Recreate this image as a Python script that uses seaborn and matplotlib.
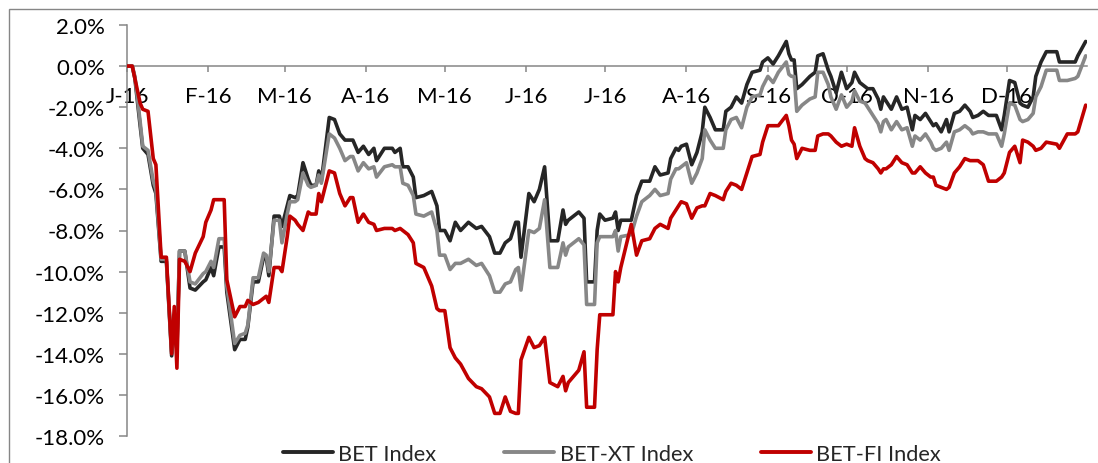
import numpy as np
import pandas as pd
import matplotlib
matplotlib.use("Agg")
import matplotlib.pyplot as plt
from matplotlib.patches import Rectangle
from matplotlib.ticker import FuncFormatter, FixedLocator
import seaborn as sns

# ---------------- data (2016, % change since start of year) ----------------
days = [0, 2, 3, 5, 6, 8, 10, 11, 13, 15,
        17, 18, 19, 20, 22, 24, 26, 29, 30, 32,
        33, 35, 37, 38, 41, 43, 45, 46, 48, 50,
        52, 53, 54, 56, 58, 59, 61, 62, 64, 65,
        67, 69, 70, 72, 73, 74, 77, 79, 81, 83,
        85, 86, 88, 90, 92, 94, 95, 98, 101, 102,
        104, 105, 107, 109, 110, 113, 116, 118, 119, 121,
        123, 125, 127, 130, 133, 135, 138, 140, 142, 144,
        146, 148, 149, 150, 153, 155, 157, 159, 161, 164,
        166, 167, 168, 172, 174, 175, 178, 179, 180, 182,
        185, 186, 187, 188, 192, 194, 196, 199, 201, 203,
        206, 207, 209, 210, 211, 213, 215, 217, 219, 220,
        222, 224, 227, 228, 230, 232, 234, 236, 238, 241,
        242, 244, 246, 248, 251, 252, 253, 254, 255, 257,
        260, 262, 263, 265, 267, 268, 270, 272, 274, 276,
        277, 279, 281, 282, 284, 286, 287, 288, 289, 291,
        293, 295, 297, 299, 300, 302, 304, 306, 307, 308,
        310, 312, 313, 315, 317, 319, 321, 322, 324, 326,
        328, 331, 333, 334, 336, 338, 340, 341, 343, 345,
        346, 348, 350, 354, 355, 358, 361, 362, 365]

bet = [0, 0, -0.6, -2.9, -4.0, -4.3, -5.8, -6.2, -9.5, -9.5,
       -14.1, -12.5, -13.8, -9.0, -9.0, -10.8, -10.9, -10.5, -10.4, -9.8,
       -10.2, -8.8, -8.8, -11.0, -13.8, -13.3, -13.3, -12.7, -10.5, -10.5,
       -9.3, -9.3, -10.2, -7.3, -7.3, -7.8, -6.8, -6.3, -6.4, -6.3,
       -4.7, -5.5, -5.8, -5.8, -5.1, -5.6, -2.5, -2.6, -3.3, -3.6,
       -3.6, -3.6, -4.2, -3.9, -4.3, -4.0, -4.6, -4.0, -4.0, -4.2,
       -4.0, -4.9, -4.9, -5.4, -6.4, -6.3, -6.1, -6.8, -8.0, -8.0,
       -8.5, -7.6, -8.0, -7.6, -7.9, -7.8, -8.3, -9.1, -9.1, -8.6,
       -8.4, -7.6, -7.6, -9.3, -6.2, -6.6, -6.0, -4.9, -8.5, -8.5,
       -7.0, -7.7, -7.5, -7.1, -7.4, -10.5, -10.5, -8.0, -7.2, -7.5,
       -7.4, -7.1, -8.0, -7.5, -7.5, -6.3, -5.6, -5.6, -4.9, -5.3,
       -5.2, -4.5, -4.0, -4.1, -3.9, -3.8, -4.8, -4.2, -3.2, -2.0,
       -2.5, -3.1, -3.1, -2.2, -2.0, -1.5, -1.8, -0.9, -0.3, -0.2,
       0.2, 0.4, 0.1, 0.5, 1.2, 0.6, 0.3, 0.3, -1.1, -0.9,
       -0.5, -0.3, 0.5, 0.6, -0.2, -0.5, -1.3, -0.3, -1.1, -0.8,
       -0.3, -0.8, -1.0, -1.1, -1.1, -1.6, -2.1, -1.5, -1.7, -2.1,
       -1.5, -2.1, -2.0, -3.1, -2.4, -2.6, -2.3, -2.7, -2.9, -2.8,
       -3.2, -2.6, -3.2, -2.3, -2.2, -1.9, -2.2, -2.5, -2.4, -2.2,
       -2.4, -2.4, -3.1, -2.4, -0.7, -0.8, -1.8, -1.9, -2.0, -1.5,
       -0.5, 0.2, 0.7, 0.7, 0.2, 0.2, 0.2, 0.5, 1.2]

bet_xt = [0, 0, -0.5, -2.7, -3.9, -4.1, -5.6, -6.0, -9.4, -9.4,
          -13.9, -12.3, -13.5, -9.0, -9.0, -10.5, -10.6, -10.1, -10.0, -9.5,
          -9.8, -8.4, -8.4, -10.7, -13.5, -13.1, -13.0, -12.6, -10.3, -10.3,
          -9.1, -9.2, -10.0, -7.5, -7.5, -8.6, -7.2, -6.6, -6.6, -6.5,
          -5.2, -5.8, -5.9, -5.8, -5.3, -5.7, -3.3, -3.5, -4.0, -4.6,
          -4.4, -4.4, -5.1, -4.7, -5.0, -4.9, -5.4, -4.9, -4.8, -4.9,
          -4.9, -5.7, -5.8, -6.3, -7.2, -7.3, -7.1, -8.0, -9.2, -9.2,
          -9.9, -9.6, -9.6, -9.4, -9.7, -9.6, -10.2, -11.0, -11.0, -10.6,
          -10.5, -9.9, -9.8, -10.9, -8.0, -8.1, -7.9, -6.5, -9.8, -9.8,
          -8.6, -9.2, -8.8, -8.4, -8.7, -11.6, -11.6, -8.6, -8.3, -8.3,
          -8.3, -8.0, -9.0, -8.3, -8.2, -7.3, -6.6, -6.3, -6.0, -6.3,
          -6.2, -5.5, -5.0, -5.0, -4.9, -4.7, -5.7, -5.2, -4.5, -3.1,
          -3.6, -4.0, -4.0, -3.1, -2.6, -2.5, -3.0, -2.0, -1.5, -1.4,
          -1.0, -0.5, -0.8, -0.3, 0.2, -0.4, -0.5, -0.5, -2.2, -1.9,
          -1.6, -1.5, -0.3, -0.3, -0.9, -1.5, -2.1, -1.4, -2.0, -1.7,
          -1.2, -1.7, -1.8, -2.0, -2.4, -2.8, -3.2, -2.7, -2.6, -3.1,
          -2.7, -3.1, -3.0, -3.9, -3.4, -3.6, -3.3, -3.7, -4.0, -4.1,
          -4.0, -3.7, -4.1, -3.2, -3.1, -2.9, -3.1, -3.3, -3.2, -3.2,
          -3.3, -3.3, -3.9, -3.3, -1.8, -1.9, -2.6, -2.7, -2.6, -2.3,
          -1.5, -1.0, -0.2, -0.2, -0.7, -0.7, -0.6, -0.5, 0.5]

bet_fi = [0, 0, -0.6, -1.8, -2.1, -2.2, -4.5, -4.8, -9.3, -9.3,
          -14.0, -11.7, -14.7, -9.4, -9.5, -10.0, -9.1, -8.3, -7.6, -7.0,
          -6.5, -6.5, -6.5, -10.4, -12.2, -11.7, -11.7, -11.4, -11.6, -11.5,
          -11.3, -11.2, -11.5, -9.8, -9.8, -10.0, -8.3, -7.3, -7.5, -7.7,
          -8.0, -7.1, -7.2, -7.2, -6.2, -6.6, -5.1, -5.2, -6.2, -6.8,
          -6.4, -6.4, -7.6, -7.2, -7.6, -7.7, -8.0, -7.9, -7.9, -8.0,
          -7.9, -8.0, -8.2, -8.6, -9.6, -9.8, -10.7, -11.8, -11.9, -11.9,
          -13.7, -14.2, -14.5, -15.2, -15.6, -15.7, -16.1, -16.9, -16.9, -16.1,
          -16.8, -16.9, -16.9, -14.3, -13.2, -13.7, -13.6, -13.2, -15.4, -15.6,
          -15.1, -15.8, -15.4, -14.8, -13.9, -16.6, -16.6, -13.8, -12.1, -12.1,
          -12.1, -10.0, -10.5, -9.8, -7.7, -9.2, -8.5, -8.4, -7.9, -7.7,
          -7.9, -7.4, -7.0, -6.8, -6.6, -6.7, -7.4, -6.9, -6.8, -6.8,
          -6.2, -6.3, -6.5, -6.1, -5.7, -5.8, -6.0, -5.2, -4.4, -4.3,
          -3.7, -2.9, -2.9, -2.9, -2.4, -2.9, -3.6, -3.8, -4.5, -4.0,
          -4.1, -4.1, -3.4, -3.3, -3.3, -3.4, -3.7, -3.9, -3.8, -3.9,
          -3.0, -3.9, -4.5, -4.6, -4.7, -5.0, -5.2, -5.0, -5.0, -4.8,
          -4.4, -4.7, -4.8, -5.2, -5.2, -4.9, -5.2, -5.4, -5.4, -5.8,
          -5.9, -6.0, -5.9, -5.2, -4.9, -4.5, -4.6, -4.6, -4.6, -4.8,
          -5.6, -5.6, -5.4, -5.2, -4.2, -3.9, -4.7, -3.6, -3.7, -3.9,
          -4.1, -4.0, -3.7, -3.8, -4.0, -3.3, -3.3, -3.2, -1.9]

series_names = ["BET Index", "BET-XT Index", "BET-FI Index"]
series_colors = ["#262626", "#878787", "#C00000"]
month_labels = ["J-16", "F-16", "M-16", "A-16", "M-16", "J-16",
                "J-16", "A-16", "S-16", "O-16", "N-16", "D-16"]
y_ticks = [2, 0, -2, -4, -6, -8, -10, -12, -14, -16, -18]

# ---------------- build long table ----------------
start = pd.Timestamp("2016-01-01")
dates = start + pd.to_timedelta(days, unit="D")
frames = []
for name, vals in zip(series_names, [bet, bet_xt, bet_fi]):
    frames.append(pd.DataFrame({"date": dates, "value": vals, "series": name}))
df = pd.concat(frames, ignore_index=True)

# ---------------- style ----------------
sns.set_theme(style="white")
plt.rcParams["font.family"] = ["Lato", "DejaVu Sans"]
plt.rcParams["axes.unicode_minus"] = False

W, H = 1098, 464
fig = plt.figure(figsize=(W / 100, H / 100), dpi=100)
ax = fig.add_axes([127 / W, 1 - 437 / H, 960 / W, 411 / H])

sns.lineplot(data=df, x="date", y="value", hue="series",
             hue_order=series_names, palette=dict(zip(series_names, series_colors)),
             estimator=None, sort=False, linewidth=2.6, ax=ax, zorder=3)

axis_grey = "#868686"
ax.set_ylim(-18, 2)
ax.set_xlim(start, start + pd.Timedelta(days=365.5))

ax.yaxis.set_major_locator(FixedLocator(y_ticks))
ax.yaxis.set_major_formatter(FuncFormatter(lambda v, p: f"{v:.1f}%"))

month_starts = pd.date_range("2016-01-01", periods=12, freq="MS")
ax.set_xticks(month_starts)
ax.set_xticklabels(month_labels)

for s in ["top", "right"]:
    ax.spines[s].set_visible(False)
ax.spines["left"].set_color(axis_grey)
ax.spines["left"].set_linewidth(1.1)
ax.spines["bottom"].set_color(axis_grey)
ax.spines["bottom"].set_linewidth(1.1)
ax.spines["bottom"].set_position(("data", 0))
ax.spines["left"].set_zorder(1)
ax.spines["bottom"].set_zorder(1)

ax.tick_params(axis="y", which="major", direction="out", length=6, width=1.1,
               color=axis_grey, labelsize=16, labelcolor="black", pad=10, left=True)
ax.tick_params(axis="x", which="major", direction="out", length=4.5, width=1.1,
               color=axis_grey, labelsize=16, labelcolor="black", pad=10, bottom=True)

ax.set_xlabel("")
ax.set_ylabel("")
ax.grid(False)

handles, labels = ax.get_legend_handles_labels()
ax.get_legend().remove()
for h in handles:
    h.set_linewidth(2.8)
fig.legend(handles, labels, loc="center", bbox_to_anchor=(612 / W, 1 - 455 / H),
           ncol=3, frameon=False, fontsize=15.7, handlelength=2.3,
           handletextpad=0.25, columnspacing=3.1)

# outer chart border
fig.patches.append(Rectangle((9 / W, -0.1), 1.5, 1 - 10 / H + 0.1,
                             transform=fig.transFigure, fill=False,
                             edgecolor=axis_grey, linewidth=1.0))

fig.savefig("out.png", dpi=100)
